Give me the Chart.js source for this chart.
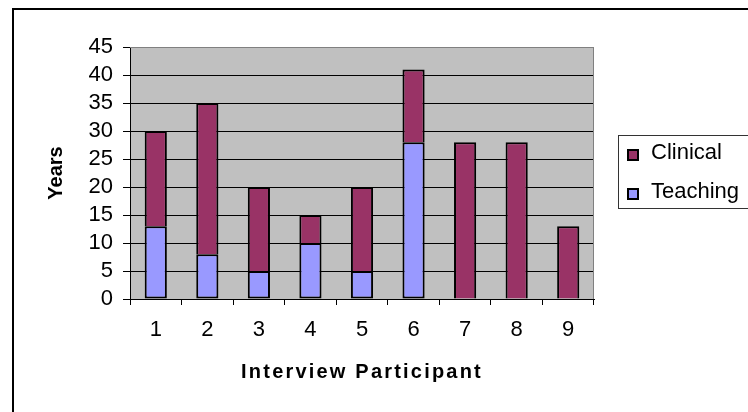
<!DOCTYPE html>
<html>
<head>
<meta charset="utf-8">
<script src="https://cdn.jsdelivr.net/npm/chart.js@4/dist/chart.umd.min.js"></script>
<style>
  html,body{margin:0;padding:0;background:#fff;overflow:hidden;}
  #wrap{position:relative;width:748px;height:412px;overflow:hidden;}
  #frame{position:absolute;left:12px;top:8px;width:760px;height:420px;border:2px solid #000;box-sizing:border-box;}
  canvas{position:absolute;left:0;top:0;}
</style>
</head>
<body>
<div id="wrap">
  <div id="frame"></div>
  <canvas id="chart" width="748" height="412"></canvas>
</div>
<script>
// ================== DATA ==================
const participants = ["1","2","3","4","5","6","7","8","9"];
const teaching = [13, 8, 5, 10, 5, 28, 0, 0, 0];
const clinical = [17, 27, 15, 5, 15, 13, 28, 28, 13];
const yMax = 45;
const yStep = 5;

const FONT = '"Liberation Sans", Arial, sans-serif';

// ================== PLUGINS ==================
// grey plot area + grey top/right edge
const plotArea = {
  id:'plotArea',
  beforeDraw(chart){
    const {ctx, chartArea:a} = chart;
    ctx.save();
    ctx.fillStyle = '#c0c0c0';
    ctx.fillRect(a.left, a.top, a.right-a.left, a.bottom-a.top);
    ctx.restore();
    // spaced out x title like the original
    const s = chart.scales.x;
    if(s && !s._spaced){
      const orig = s.drawTitle;
      s.drawTitle = function(){
        const c = this.ctx;
        c.save();
        c.letterSpacing = '2.2px';
        orig.call(this);
        c.restore();
      };
      s._spaced = true;
    }
  },
  beforeDatasetsDraw(chart){
    const {ctx, chartArea:a} = chart;
    ctx.save();
    ctx.strokeStyle = '#808080';
    ctx.lineWidth = 1;
    ctx.beginPath();
    ctx.moveTo(a.left, a.top+0.5);
    ctx.lineTo(a.right-0.5, a.top+0.5);
    ctx.lineTo(a.right-0.5, a.bottom);
    ctx.stroke();
    ctx.restore();
  }
};

// boxed legend on the right, Clinical first
const legendBox = {
  id:'legendBox',
  afterDraw(chart){
    const c = chart.ctx;
    c.save();
    c.fillStyle = '#fff';
    c.strokeStyle = '#333';
    c.lineWidth = 1;
    c.fillRect(618.5, 135.5, 200, 73);
    c.strokeRect(618.5, 135.5, 200, 73);
    const items = [...chart.data.datasets].reverse();
    items.forEach((ds,i)=>{
      const y = 155 + i*39;
      c.fillStyle = ds.backgroundColor;
      c.fillRect(628, y-5, 10, 10);
      c.lineWidth = 2;
      c.strokeStyle = '#000';
      c.strokeRect(628, y-5, 10, 10);
      c.fillStyle = '#000';
      c.font = '22px ' + FONT;
      c.textBaseline = 'middle';
      c.textAlign = 'left';
      c.fillText(ds.label, 651, y-2);
    });
    c.restore();
  }
};

// ================== CHART ==================
const ctx = document.getElementById('chart').getContext('2d');
new Chart(ctx, {
  type:'bar',
  data:{
    labels: participants,
    datasets:[
      {
        label:'Teaching',
        data: teaching,
        backgroundColor:'#9999ff',
        borderColor:'#000',
        borderWidth:2,
        borderSkipped:false
      },
      {
        label:'Clinical',
        data: clinical,
        backgroundColor:'#993366',
        borderColor:'#000',
        borderWidth:2,
        borderSkipped:'start'
      }
    ]
  },
  options:{
    responsive:false,
    animation:false,
    layout:{padding:{top:47, right:154, left:0, bottom:0}},
    datasets:{bar:{barPercentage:0.43, categoryPercentage:1.0}},
    plugins:{legend:{display:false}, tooltip:{enabled:false}},
    scales:{
      x:{
        stacked:true,
        grid:{drawOnChartArea:false, drawTicks:true, tickLength:6, tickColor:'#000', offset:true},
        border:{color:'#000', width:1},
        ticks:{color:'#000', padding:12, autoSkip:false, maxRotation:0, font:{family:FONT, size:22}},
        title:{display:true, text:'Interview Participant', color:'#000',
               font:{family:FONT, size:20, weight:'bold'}, padding:{top:0, bottom:28}},
        afterFit(scale){ scale.height = 113; }
      },
      y:{
        stacked:true,
        min:0, max:yMax,
        grid:{
          color: c => (c.tick && c.tick.value === yMax) ? '#808080' : '#000',
          lineWidth:1, drawTicks:true, tickLength:7, tickColor:'#000'
        },
        border:{color:'#000', width:1},
        ticks:{stepSize:yStep, autoSkip:false, maxTicksLimit:20, color:'#000', padding:10,
               font:{family:FONT, size:22, lineHeight:1}},
        title:{display:true, text:'Years', color:'#000',
               font:{family:FONT, size:20, weight:'bold'}, padding:{top:44, bottom:0}},
        afterFit(scale){ scale.width = 130; }
      }
    }
  },
  plugins:[plotArea, legendBox]
});
</script>
</body>
</html>
